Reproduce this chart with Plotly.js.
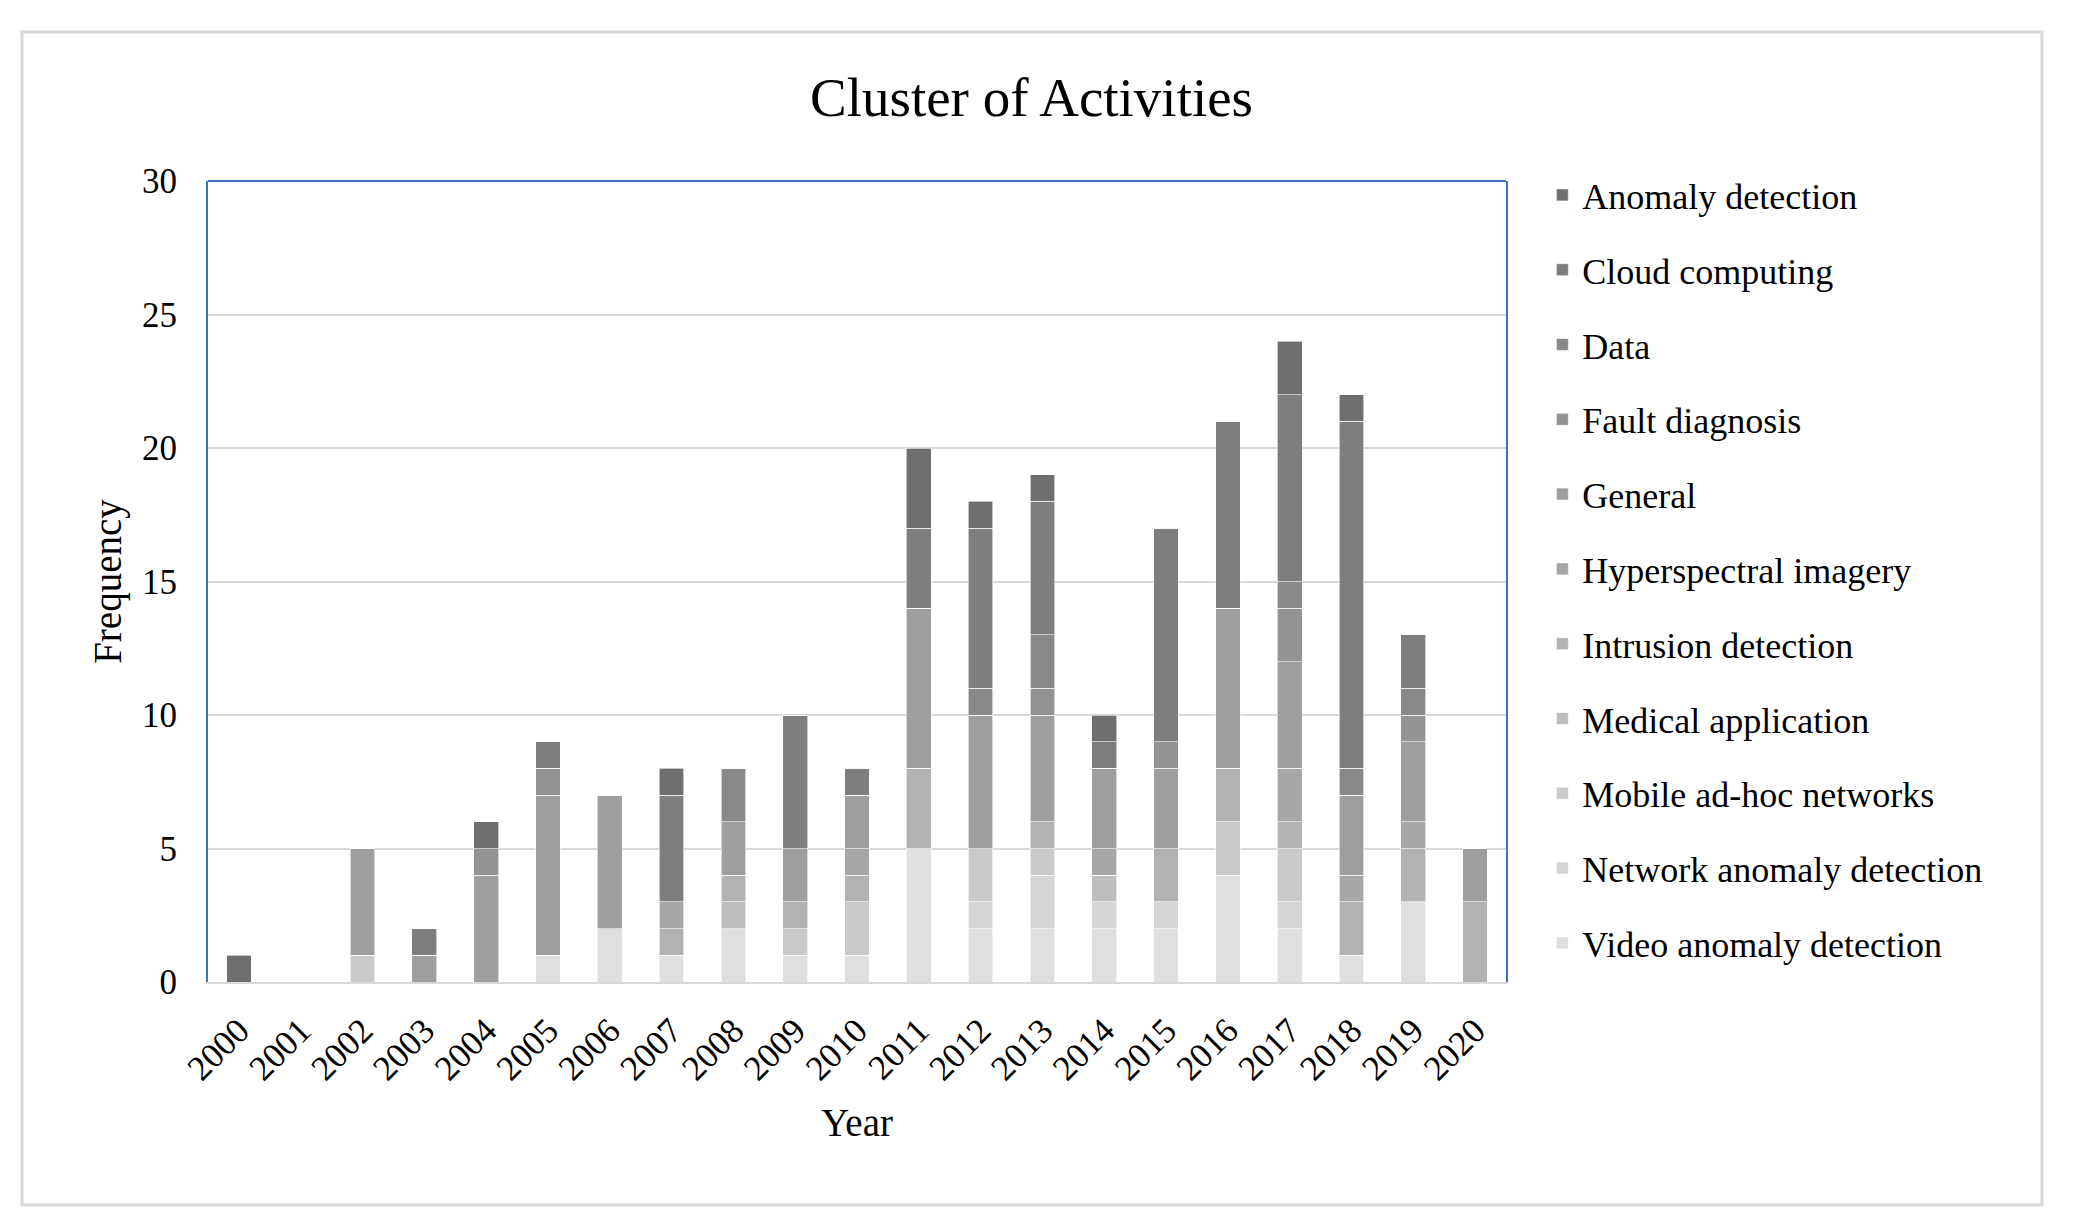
<!DOCTYPE html>
<html>
<head>
<meta charset="utf-8">
<script src="https://cdn.plot.ly/plotly-3.0.1.min.js"></script>
<style>
  html, body { margin: 0; padding: 0; background: #ffffff; }
  #chart { width: 2086px; height: 1231px; }
</style>
</head>
<body>
<div id="chart"></div>
<script>
// Categories (years)
const years = ["2000","2001","2002","2003","2004","2005","2006","2007","2008","2009","2010",
               "2011","2012","2013","2014","2015","2016","2017","2018","2019","2020"];

// Series values, bottom of stack first
const videoAnomalyDetection   = [0,0,0,0,0,1,2,1,2,1,1,5,2,2,2,2,4,2,1,3,0];
const networkAnomalyDetection = [0,0,0,0,0,0,0,0,0,0,0,0,1,2,1,1,0,1,0,0,0];
const mobileAdHocNetworks     = [0,0,1,0,0,0,0,0,0,1,2,0,2,1,0,0,2,2,0,0,0];
const medicalApplication      = [0,0,0,0,0,0,0,0,1,0,0,0,0,0,1,0,0,0,0,0,0];
const intrusionDetection      = [0,0,0,0,0,0,0,1,1,1,1,3,0,1,0,2,2,1,2,2,3];
const hyperspectralImagery    = [0,0,0,0,0,0,0,1,0,0,1,0,0,0,1,0,0,2,1,1,0];
const general                 = [0,0,4,1,4,6,5,0,2,2,2,6,5,4,3,3,6,4,3,3,2];
const faultDiagnosis          = [0,0,0,0,1,1,0,0,0,0,0,0,0,1,0,1,0,2,0,1,0];
const data                    = [0,0,0,0,0,0,0,0,2,0,0,0,1,2,0,0,0,1,1,1,0];
const cloudComputing          = [0,0,0,1,0,1,0,4,0,5,1,3,6,5,1,8,7,7,13,2,0];
const anomalyDetection        = [1,0,0,0,1,0,0,1,0,0,0,3,1,1,1,0,0,2,1,0,0];

const seriesNames = ["Video anomaly detection","Network anomaly detection","Mobile ad-hoc networks",
  "Medical application","Intrusion detection","Hyperspectral imagery","General",
  "Fault diagnosis","Data","Cloud computing","Anomaly detection"];
const seriesValues = [videoAnomalyDetection, networkAnomalyDetection, mobileAdHocNetworks,
  medicalApplication, intrusionDetection, hyperspectralImagery, general,
  faultDiagnosis, data, cloudComputing, anomalyDetection];
const seriesColors = ["#dfdfdf","#d5d5d5","#cacaca","#bebebe","#b2b2b2","#a7a7a7","#9e9e9e",
  "#939393","#898989","#7e7e7e","#6f6f6f"];

const FONT = "Liberation Serif, 'Times New Roman', Times, serif";

const traces = seriesNames.map((name, i) => ({
  type: "bar",
  name: name,
  x: years,
  y: seriesValues[i],
  legendgroup: "g" + i,
  legendrank: seriesNames.length - i,
  marker: { color: seriesColors[i], line: { color: "#ffffff", width: 0.6 } },
  hoverinfo: "x+y+name"
}));

const layout = {
  width: 2086,
  height: 1231,
  paper_bgcolor: "#ffffff",
  plot_bgcolor: "#ffffff",
  barmode: "stack",
  bargap: 0.6,
  margin: { l: 208, r: 580, t: 181, b: 249, pad: 0 },
  font: { family: FONT, color: "#000000", size: 36 },
  title: {
    text: "Cluster of Activities",
    font: { family: FONT, size: 55, color: "#000000" },
    x: 0.4945, xref: "container", xanchor: "center",
    y: 0.921, yref: "container", yanchor: "middle"
  },
  xaxis: {
    type: "category",
    tickangle: -45,
    tickfont: { family: FONT, size: 35, color: "#000000" },
    showgrid: false,
    showline: true,
    linecolor: "#d9d9d9",
    linewidth: 2,
    ticks: "",
    ticklabelstandoff: 12,
    title: { text: "Year", font: { family: FONT, size: 39, color: "#000000" }, standoff: 22 },
    fixedrange: true
  },
  yaxis: {
    range: [0, 30],
    dtick: 5,
    tick0: 0,
    tickfont: { family: FONT, size: 35, color: "#000000" },
    showgrid: true,
    gridcolor: "#d9d9d9",
    gridwidth: 2,
    zeroline: false,
    showline: true,
    mirror: true,
    linecolor: "#3b74bb",
    linewidth: 2,
    ticks: "",
    ticklabelstandoff: 22,
    title: { text: "Frequency", font: { family: FONT, size: 39, color: "#000000" }, standoff: 8 },
    fixedrange: true
  },
  legend: {
    x: 1.028, xanchor: "left",
    y: 1.02, yanchor: "top",
    traceorder: "grouped",
    tracegroupgap: 25,
    maxheight: 1100,
    font: { family: FONT, size: 36, color: "#000000" },
    bgcolor: "rgba(0,0,0,0)",
    itemclick: false,
    itemdoubleclick: false
  },
  shapes: [
    { type: "line", xref: "paper", yref: "paper", x0: 0, x1: 1, y0: 1, y1: 1,
      line: { color: "#3b74bb", width: 2 }, layer: "above" },
    { type: "rect", xref: "paper", yref: "paper",
      x0: -0.1433, x1: 1.4129, y0: -0.2784, y1: 1.186,
      line: { color: "#d9d9d9", width: 3 }, fillcolor: "rgba(0,0,0,0)", layer: "below" }
  ],
  showlegend: true
};

Plotly.newPlot("chart", traces, layout, { displayModeBar: false, staticPlot: true });
</script>
</body>
</html>
